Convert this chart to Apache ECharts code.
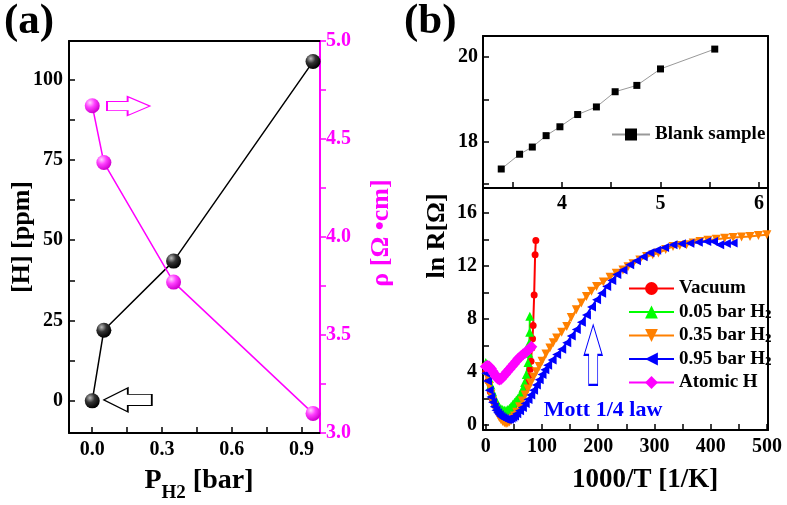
<!DOCTYPE html>
<html>
<head>
<meta charset="utf-8">
<script src="https://cdn.jsdelivr.net/npm/echarts@6/dist/echarts.min.js"></script>
<style>
html, body { margin: 0; background: #fff; }
#main { width: 787px; height: 505px; }
</style>
</head>
<body>
<div id="main"></div>
<script>
// panel (a): hydrogen content and resistivity vs H2 pressure
var pressure = [0, 0.05, 0.35, 0.95];
var hydrogen = [0, 22, 43.5, 105.6];
var resistivity = [4.67, 4.38, 3.77, 3.10];

// panel (b) top: blank sample
var blankX = [3.385, 3.571, 3.70, 3.84, 3.98, 4.16, 4.35, 4.54, 4.76, 5.00, 5.55];
var blankLnR = [17.35, 17.70, 17.87, 18.14, 18.35, 18.64, 18.82, 19.18, 19.33, 19.72, 20.19];

// panel (b) bottom: ln R vs 1000/T, [x, y] pairs
var vacuum = [[0,4.0],[4,3.3],[8,2.5],[12,1.9],[16,1.5],[20,1.2],[25,1.0],[30,0.9],[35,0.9],[40,1.0],[45,1.2],[50,1.4],[55,1.7],[60,2.0],[65,2.4],[70,2.8],[74,3.2],[77,3.7],[79,4.2],[80.5,4.8],[81.9,5.8],[83.1,6.5],[84.2,7.5],[86,9.8],[87.7,12.85],[89,13.93]];
var bar005 = [[0,4.7],[3,4.1],[6,3.5],[9,3.0],[12,2.5],[15,2.1],[18,1.8],[21,1.55],[24,1.35],[27,1.2],[30,1.15],[33,1.1],[36,1.1],[39,1.15],[42,1.25],[45,1.4],[48,1.55],[51,1.7],[54,1.85],[57,2.0],[60,2.15],[63,2.4],[66,2.75],[69,3.2],[72,3.8],[75,4.7],[76.5,5.4],[77.5,6.2],[78,7.0],[78.3,8.2]];
var bar035 = [[0,4.3],[3,3.6],[6,2.9],[9,2.3],[12,1.8],[15,1.4],[18,1.05],[21,0.8],[24,0.55],[27,0.38],[30,0.25],[33,0.15],[36,0.1],[39,0.12],[42,0.2],[45,0.32],[48,0.48],[51,0.66],[55,0.95],[60,1.35],[65,1.8],[70,2.25],[75,2.7],[80,3.15],[85,3.6],[90,4.0],[95,4.4],[100,4.8],[107,5.35],[114,5.8],[120,6.2],[126,6.55],[135,7.0],[144,7.43],[152,8.1],[161,8.69],[170,9.2],[179,9.7],[188,10.1],[197,10.45],[209,10.8],[221,11.16],[232,11.45],[244,11.7],[253,11.95],[262,12.17],[274,12.45],[286,12.72],[297,12.85],[307,12.98],[320,13.25],[333,13.48],[345,13.55],[357,13.6],[369,13.75],[381,13.86],[395,13.95],[410,14.03],[425,14.1],[440,14.16],[455,14.2],[470,14.23],[485,14.3],[500,14.36]];
var bar095 = [[0,3.9],[3,3.3],[6,2.6],[9,2.1],[12,1.7],[15,1.35],[18,1.1],[21,0.9],[24,0.75],[27,0.62],[30,0.52],[33,0.45],[36,0.4],[39,0.4],[42,0.42],[45,0.48],[48,0.56],[51,0.66],[55,0.82],[60,1.05],[65,1.3],[70,1.6],[75,1.9],[80,2.25],[85,2.6],[90,3.0],[95,3.4],[100,3.8],[105,4.15],[110,4.5],[118,4.9],[126,5.3],[135,5.7],[144,6.2],[152,6.7],[161,7.2],[170,7.75],[179,8.3],[188,8.9],[197,9.45],[206,9.95],[215,10.45],[224,10.9],[233,11.35],[244,11.7],[256,12.1],[268,12.4],[280,12.7],[292,13.0],[304,13.2],[318,13.4],[333,13.6],[348,13.68],[363,13.73],[378,13.8],[393,13.86],[405,13.85],[416,13.6],[428,13.7],[440,13.75]];
var atomicH = [[0,4.4],[3,4.45],[6,4.4],[9,4.25],[12,4.05],[15,3.85],[18,3.65],[21,3.5],[24,3.42],[27,3.45],[30,3.6],[34,3.8],[38,4.0],[42,4.2],[46,4.4],[50,4.6],[54,4.8],[58,5.0],[62,5.15],[66,5.3],[70,5.45],[74,5.6],[78,5.75],[81,5.9]];

// tick positions and labels
var aTickX = [0, 0.15, 0.3, 0.45, 0.6, 0.75, 0.9];
var aLabelX = [0, 0.3, 0.6, 0.9];
var aTickH = [0, 12.5, 25, 37.5, 50, 62.5, 75, 87.5, 100];
var aLabelH = [0, 25, 50, 75, 100];
var aTickRho = [3, 3.25, 3.5, 3.75, 4, 4.25, 4.5, 4.75, 5];
var aLabelRho = [3, 3.5, 4, 4.5, 5];
var bTopTickX = [3.5, 4, 4.5, 5, 5.5, 6];
var bTopLabelX = [4, 5, 6];
var bTopTickY = [17, 18, 19, 20];
var bTopLabelY = [18, 20];
var bTickX = [0, 50, 100, 150, 200, 250, 300, 350, 400, 450, 500];
var bLabelX = [0, 100, 200, 300, 400, 500];
var bTickY = [0, 2, 4, 6, 8, 10, 12, 14, 16];
var bLabelY = [0, 4, 8, 12, 16];

var font = 'Liberation Serif';
var MAG = '#ff00ff';

function lineOnly(grid, pos, color) {
	return {
		gridIndex: grid, type: 'value', position: pos,
		axisLine: { onZero: false, lineStyle: { color: color || '#000', width: 2 } },
		axisTick: { show: false }, axisLabel: { show: false }, splitLine: { show: false }
	};
}

function numAxis(grid, pos, min, max, ticks, labels, opts) {
	opts = opts || {};
	var color = opts.color || '#000';
	return {
		gridIndex: grid, type: 'value', position: pos, min: min, max: max,
		axisLine: { onZero: false, lineStyle: { color: color, width: 2 } },
		axisTick: { inside: !opts.outside, length: 6, customValues: ticks, lineStyle: { color: color, width: 1.5 } },
		axisLabel: {
			customValues: labels, margin: opts.margin || 7,
			fontSize: 20, fontWeight: 'bold', fontFamily: font, color: color,
			formatter: opts.fmt
		},
		splitLine: { show: false }
	};
}

function ball(light, mid, dark) {
	return new echarts.graphic.RadialGradient(0.35, 0.3, 0.7, [
		{ offset: 0, color: light },
		{ offset: 0.45, color: mid },
		{ offset: 1, color: dark }
	]);
}

var arrowRight = 'path://M0,26 L48,26 L48,0 L100,50 L48,100 L48,74 L0,74 Z';
var arrowLeft = 'path://M0,50 L50,0 L50,27 L100,27 L100,73 L50,73 L50,100 Z';
var arrowUp = 'path://M50,0 L100,50 L75,50 L75,100 L25,100 L25,50 L0,50 Z';

function fix1(v) { return v.toFixed(1); }

function curve(name, data, color, symbol, size, rotate) {
	return {
		name: name, type: 'line', xAxisIndex: 4, yAxisIndex: 4, data: data,
		symbol: symbol, symbolSize: size, symbolRotate: rotate || 0,
		itemStyle: { color: color }, lineStyle: { color: color, width: 2 }
	};
}

var myChart = echarts.init(document.getElementById('main'));
var option = {
	animation: false,
	backgroundColor: '#fff',
	grid: [
		{ left: 69, top: 41, width: 251, height: 392, outerBoundsMode: 'none' },
		{ left: 483, top: 36, width: 285, height: 152, outerBoundsMode: 'none' },
		{ left: 483, top: 188, width: 285, height: 242, outerBoundsMode: 'none' }
	],
	xAxis: [
		numAxis(0, 'bottom', -0.1, 0.98, aTickX, aLabelX, { fmt: fix1 }),
		lineOnly(0, 'top'),
		numAxis(1, 'bottom', 3.2, 6.09, bTopTickX, bTopLabelX, { margin: 6 }),
		lineOnly(1, 'top'),
		numAxis(2, 'bottom', -5, 502, bTickX, bLabelX, {})
	],
	yAxis: [
		numAxis(0, 'left', -10, 112, aTickH, aLabelH, { margin: 6 }),
		numAxis(0, 'right', 3, 5, aTickRho, aLabelRho, { color: MAG, outside: true, fmt: fix1, margin: 6 }),
		numAxis(1, 'left', 16.9, 20.5, bTopTickY, bTopLabelY, { margin: 5 }),
		lineOnly(1, 'right'),
		numAxis(2, 'left', -0.4, 17.9, bTickY, bLabelY, { margin: 6 }),
		lineOnly(2, 'right')
	],
	legend: [
		{
			data: ['Blank sample'], left: 606, top: 120, itemWidth: 38, itemHeight: 15,
			textStyle: { fontSize: 19, fontWeight: 'bold', fontFamily: font, color: '#000' }
		},
		{
			data: ['Vacuum', '0.05 bar H2', '0.35 bar H2', '0.95 bar H2', 'Atomic H'],
			orient: 'vertical', left: 623, top: 274, itemWidth: 45, itemHeight: 16, itemGap: 4.5,
			formatter: function (name) {
				if (name.slice(-2) === 'H2') return '{m|' + name.slice(0, -1) + '}{s|2}';
				return '{m|' + name + '}';
			},
			textStyle: {
				color: '#000',
				rich: {
					m: { fontSize: 19, fontWeight: 'bold', fontFamily: font, color: '#000' },
					s: { fontSize: 13, fontWeight: 'bold', fontFamily: font, color: '#000', verticalAlign: 'bottom', padding: [5, 0, 0, 0] }
				}
			}
		}
	],
	series: [
		{
			name: '[H]', type: 'line', xAxisIndex: 0, yAxisIndex: 0,
			data: pressure.map(function (p, i) { return [p, hydrogen[i]]; }),
			symbol: 'circle', symbolSize: 15,
			itemStyle: { color: ball('#bbbbbb', '#333333', '#000000') },
			lineStyle: { color: '#000', width: 1.5 },
			markPoint: {
				silent: true, label: { show: false },
				data: [{ coord: [0.153, 0.3], symbol: arrowLeft, symbolSize: [48, 24],
					itemStyle: { color: '#fff', borderColor: '#000', borderWidth: 1.3 } }]
			}
		},
		{
			name: 'rho', type: 'line', xAxisIndex: 0, yAxisIndex: 1,
			data: pressure.map(function (p, i) { return [p, resistivity[i]]; }),
			symbol: 'circle', symbolSize: 15,
			itemStyle: { color: ball('#ffd6ff', '#ff40ff', '#d000d0') },
			lineStyle: { color: MAG, width: 1.5 },
			markPoint: {
				silent: true, label: { show: false },
				data: [{ coord: [0.156, 4.668], symbol: arrowRight, symbolSize: [43, 19],
					itemStyle: { color: '#fff', borderColor: MAG, borderWidth: 1.3 } }]
			}
		},
		{
			name: 'Blank sample', type: 'line', xAxisIndex: 2, yAxisIndex: 2,
			data: blankX.map(function (x, i) { return [x, blankLnR[i]]; }),
			symbol: 'rect', symbolSize: 7,
			itemStyle: { color: '#000' },
			lineStyle: { color: '#999', width: 1 }
		},
		curve('Vacuum', vacuum, '#ff0000', 'circle', 7),
		curve('0.05 bar H2', bar005, '#00ff00', 'triangle', 9),
		curve('0.35 bar H2', bar035, '#ff8000', 'triangle', 9, 180),
		Object.assign(curve('0.95 bar H2', bar095, '#0000ff', 'triangle', 9, 90), {
			markPoint: {
				silent: true, label: { show: false },
				data: [{ coord: [191, 5.28], symbol: arrowUp, symbolSize: [18, 60],
					itemStyle: { color: '#fff', borderColor: '#0000ff', borderWidth: 1.3 } }]
			}
		}),
		curve('Atomic H', atomicH, '#ff00ff', 'diamond', 12)
	],
	graphic: [
		{ type: 'text', x: 4, y: 0, style: { text: '(a)', fill: '#000', font: 'bold 43px "Liberation Serif"', align: 'left', verticalAlign: 'top' } },
		{ type: 'text', x: 404, y: 0, style: { text: '(b)', fill: '#000', font: 'bold 43px "Liberation Serif"', align: 'left', verticalAlign: 'top' } },
		{ type: 'text', x: 22, y: 237, rotation: Math.PI / 2, style: { text: '[H] [ppm]', fill: '#000', font: 'bold 26px "Liberation Serif"', align: 'center', verticalAlign: 'middle' } },
		{ type: 'text', x: 381, y: 233, rotation: Math.PI / 2, style: { text: 'ρ [Ω •cm]', fill: MAG, font: 'bold 26px "Liberation Serif"', align: 'center', verticalAlign: 'middle' } },
		{ type: 'text', x: 437, y: 236, rotation: Math.PI / 2, style: { text: 'ln R[Ω]', fill: '#000', font: 'bold 26px "Liberation Serif"', align: 'center', verticalAlign: 'middle' } },
		{ type: 'text', x: 645, y: 480, style: { text: '1000/T [1/K]', fill: '#000', font: 'bold 27px "Liberation Serif"', align: 'center', verticalAlign: 'middle' } },
		{ type: 'text', x: 603, y: 410, style: { text: 'Mott 1/4 law', fill: '#0000ff', font: 'bold 22px "Liberation Serif"', align: 'center', verticalAlign: 'middle' } },
		{
			type: 'text', x: 199, y: 482,
			style: {
				text: '{a|P}{s|H2}{a| [bar]}', align: 'center', verticalAlign: 'middle',
				rich: {
					a: { fontSize: 28, fontWeight: 'bold', fontFamily: font, fill: '#000', lineHeight: 30, verticalAlign: 'top' },
					s: { fontSize: 19, fontWeight: 'bold', fontFamily: font, fill: '#000', lineHeight: 20, verticalAlign: 'top', padding: [17, 0, 0, 0] }
				}
			}
		}
	]
};
myChart.setOption(option);
</script>
</body>
</html>
